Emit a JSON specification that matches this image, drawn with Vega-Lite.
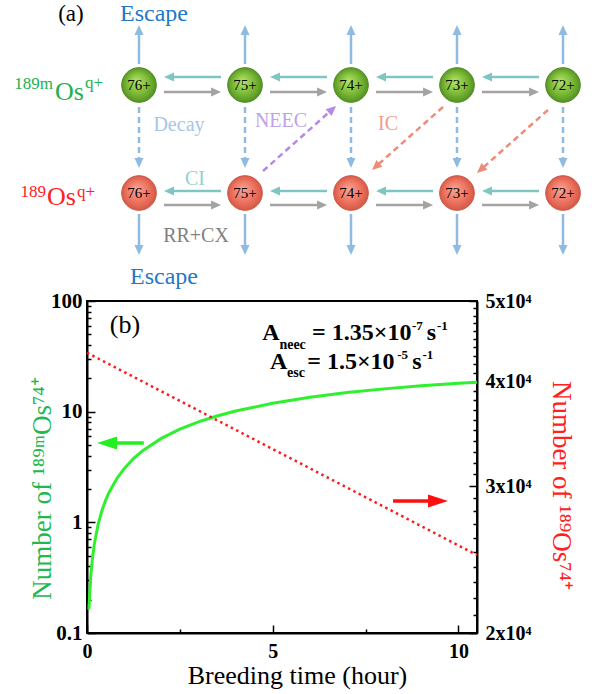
{
  "$schema": "https://vega.github.io/schema/vega-lite/v6.json",
  "width": 390,
  "height": 332,
  "autosize": {"type": "none"},
  "padding": {"left": 87, "top": 301, "right": 119, "bottom": 61},
  "background": "white",
  "config": {
    "font": "Liberation Serif, Times New Roman, serif",
    "view": {"stroke": "black", "strokeWidth": 2},
    "axis": {
      "grid": false,
      "domainColor": "black",
      "domainWidth": 2,
      "tickColor": "black",
      "tickWidth": 1.5,
      "labelFont": "Liberation Serif, Times New Roman, serif",
      "labelFontWeight": "bold",
      "labelColor": "black",
      "labelFlush": false,
      "labelOverlap": false,
      "titleFont": "Liberation Serif, Times New Roman, serif",
      "titleFontWeight": "normal"
    }
  },
  "datasets": {
    "nodes": [
      {"col": 0, "row": 0, "label": "76+"}, {"col": 1, "row": 0, "label": "75+"}, {"col": 2, "row": 0, "label": "74+"}, {"col": 3, "row": 0, "label": "73+"}, {"col": 4, "row": 0, "label": "72+"},
      {"col": 0, "row": 1, "label": "76+"}, {"col": 1, "row": 1, "label": "75+"}, {"col": 2, "row": 1, "label": "74+"}, {"col": 3, "row": 1, "label": "73+"}, {"col": 4, "row": 1, "label": "72+"}
    ],
    "solid": [
      {"c1": 0, "r1": -0.194, "c2": 0, "r2": -0.509, "kind": "esc"},
      {"c1": 1, "r1": -0.194, "c2": 1, "r2": -0.509, "kind": "esc"},
      {"c1": 2, "r1": -0.194, "c2": 2, "r2": -0.509, "kind": "esc"},
      {"c1": 3, "r1": -0.194, "c2": 3, "r2": -0.509, "kind": "esc"},
      {"c1": 4, "r1": -0.194, "c2": 4, "r2": -0.509, "kind": "esc"},
      {"c1": 0, "r1": 1.194, "c2": 0, "r2": 1.528, "kind": "esc"},
      {"c1": 1, "r1": 1.194, "c2": 1, "r2": 1.528, "kind": "esc"},
      {"c1": 2, "r1": 1.194, "c2": 2, "r2": 1.528, "kind": "esc"},
      {"c1": 3, "r1": 1.194, "c2": 3, "r2": 1.528, "kind": "esc"},
      {"c1": 4, "r1": 1.194, "c2": 4, "r2": 1.528, "kind": "esc"},
      {"c1": 0.283, "r1": -0.074, "c2": 0.774, "r2": -0.074, "kind": "ci"},
      {"c1": 1.283, "r1": -0.074, "c2": 1.774, "r2": -0.074, "kind": "ci"},
      {"c1": 2.283, "r1": -0.074, "c2": 2.774, "r2": -0.074, "kind": "ci"},
      {"c1": 3.283, "r1": -0.074, "c2": 3.774, "r2": -0.074, "kind": "ci"},
      {"c1": 0.236, "r1": 0.065, "c2": 0.727, "r2": 0.065, "kind": "rr"},
      {"c1": 1.236, "r1": 0.065, "c2": 1.727, "r2": 0.065, "kind": "rr"},
      {"c1": 2.236, "r1": 0.065, "c2": 2.727, "r2": 0.065, "kind": "rr"},
      {"c1": 3.236, "r1": 0.065, "c2": 3.727, "r2": 0.065, "kind": "rr"},
      {"c1": 0.283, "r1": 0.981, "c2": 0.774, "r2": 0.981, "kind": "ci"},
      {"c1": 1.283, "r1": 0.981, "c2": 1.774, "r2": 0.981, "kind": "ci"},
      {"c1": 2.283, "r1": 0.981, "c2": 2.774, "r2": 0.981, "kind": "ci"},
      {"c1": 3.283, "r1": 0.981, "c2": 3.774, "r2": 0.981, "kind": "ci"},
      {"c1": 0.236, "r1": 1.111, "c2": 0.727, "r2": 1.111, "kind": "rr"},
      {"c1": 1.236, "r1": 1.111, "c2": 1.727, "r2": 1.111, "kind": "rr"},
      {"c1": 2.236, "r1": 1.111, "c2": 2.727, "r2": 1.111, "kind": "rr"},
      {"c1": 3.236, "r1": 1.111, "c2": 3.727, "r2": 1.111, "kind": "rr"}
    ],
    "dashed": [
      {"c1": 0, "r1": 0.204, "c2": 0, "r2": 0.722, "kind": "decay"},
      {"c1": 1, "r1": 0.204, "c2": 1, "r2": 0.722, "kind": "decay"},
      {"c1": 2, "r1": 0.204, "c2": 2, "r2": 0.722, "kind": "decay"},
      {"c1": 3, "r1": 0.204, "c2": 3, "r2": 0.722, "kind": "decay"},
      {"c1": 4, "r1": 0.204, "c2": 4, "r2": 0.722, "kind": "decay"},
      {"c1": 1.17, "r1": 0.796, "c2": 1.824, "r2": 0.225, "kind": "neec"},
      {"c1": 2.868, "r1": 0.204, "c2": 2.233, "r2": 0.756, "kind": "ic"},
      {"c1": 3.858, "r1": 0.231, "c2": 3.224, "r2": 0.784, "kind": "ic"}
    ],
    "heads": [
      {"c": 0, "r": -0.509, "angle": 0, "kind": "esc"},
      {"c": 1, "r": -0.509, "angle": 0, "kind": "esc"},
      {"c": 2, "r": -0.509, "angle": 0, "kind": "esc"},
      {"c": 3, "r": -0.509, "angle": 0, "kind": "esc"},
      {"c": 4, "r": -0.509, "angle": 0, "kind": "esc"},
      {"c": 0, "r": 1.528, "angle": 180, "kind": "esc"},
      {"c": 1, "r": 1.528, "angle": 180, "kind": "esc"},
      {"c": 2, "r": 1.528, "angle": 180, "kind": "esc"},
      {"c": 3, "r": 1.528, "angle": 180, "kind": "esc"},
      {"c": 4, "r": 1.528, "angle": 180, "kind": "esc"},
      {"c": 0.283, "r": -0.074, "angle": 270, "kind": "ci"},
      {"c": 1.283, "r": -0.074, "angle": 270, "kind": "ci"},
      {"c": 2.283, "r": -0.074, "angle": 270, "kind": "ci"},
      {"c": 3.283, "r": -0.074, "angle": 270, "kind": "ci"},
      {"c": 0.727, "r": 0.065, "angle": 90, "kind": "rr"},
      {"c": 1.727, "r": 0.065, "angle": 90, "kind": "rr"},
      {"c": 2.727, "r": 0.065, "angle": 90, "kind": "rr"},
      {"c": 3.727, "r": 0.065, "angle": 90, "kind": "rr"},
      {"c": 0.283, "r": 0.981, "angle": 270, "kind": "ci"},
      {"c": 1.283, "r": 0.981, "angle": 270, "kind": "ci"},
      {"c": 2.283, "r": 0.981, "angle": 270, "kind": "ci"},
      {"c": 3.283, "r": 0.981, "angle": 270, "kind": "ci"},
      {"c": 0.727, "r": 1.111, "angle": 90, "kind": "rr"},
      {"c": 1.727, "r": 1.111, "angle": 90, "kind": "rr"},
      {"c": 2.727, "r": 1.111, "angle": 90, "kind": "rr"},
      {"c": 3.727, "r": 1.111, "angle": 90, "kind": "rr"},
      {"c": 0, "r": 0.722, "angle": 180, "kind": "decay"},
      {"c": 1, "r": 0.722, "angle": 180, "kind": "decay"},
      {"c": 2, "r": 0.722, "angle": 180, "kind": "decay"},
      {"c": 3, "r": 0.722, "angle": 180, "kind": "decay"},
      {"c": 4, "r": 0.722, "angle": 180, "kind": "decay"},
      {"c": 1.824, "r": 0.225, "angle": 48.3, "kind": "neec"},
      {"c": 2.233, "r": 0.756, "angle": 228.4, "kind": "ic"},
      {"c": 3.224, "r": 0.784, "angle": 228.4, "kind": "ic"}
    ],
    "processLabels": [
      {"text": "Decay", "col": 0.377, "row": 0.37, "kind": "t_decay"},
      {"text": "NEEC", "col": 1.34, "row": 0.333, "kind": "t_neec"},
      {"text": "IC", "col": 2.349, "row": 0.361, "kind": "t_ic"},
      {"text": "CI", "col": 0.528, "row": 0.87, "kind": "t_ci"},
      {"text": "RR+CX", "col": 0.538, "row": 1.398, "kind": "t_rr"}
    ],
    "escapeLabels": [
      {"text": "Escape", "col": 0.142, "row": -0.66},
      {"text": "Escape", "col": 0.236, "row": 1.778}
    ],
    "panelA": [{"text": "(a)", "col": -0.642, "row": -0.66}],
    "speciesSupRight": [
      {"text": "189m", "col": -0.811, "row": -0.009, "kind": "meta"},
      {"text": "189", "col": -0.877, "row": 0.991, "kind": "ground"}
    ],
    "speciesBig": [
      {"text": "Os", "col": -0.792, "row": 0.065, "kind": "meta"},
      {"text": "Os", "col": -0.868, "row": 1.037, "kind": "ground"}
    ],
    "speciesSupLeft": [
      {"text": "q+", "col": -0.509, "row": -0.019, "kind": "meta"},
      {"text": "q+", "col": -0.585, "row": 0.991, "kind": "ground"}
    ],
    "isomer": [
      {"t": 0.05, "v": 0.163}, {"t": 0.1, "v": 0.325}, {"t": 0.15, "v": 0.485}, {"t": 0.2, "v": 0.645},
      {"t": 0.3, "v": 0.961}, {"t": 0.4, "v": 1.272}, {"t": 0.5, "v": 1.58}, {"t": 0.6, "v": 1.884},
      {"t": 0.8, "v": 2.479}, {"t": 1.0, "v": 3.058}, {"t": 1.25, "v": 3.761}, {"t": 1.5, "v": 4.442},
      {"t": 2.0, "v": 5.735}, {"t": 2.5, "v": 6.946}, {"t": 3.0, "v": 8.078}, {"t": 3.5, "v": 9.136},
      {"t": 4.0, "v": 10.13}, {"t": 5.0, "v": 11.92}, {"t": 6.0, "v": 13.49}, {"t": 7.0, "v": 14.87},
      {"t": 8.0, "v": 16.07}, {"t": 9.0, "v": 17.12}, {"t": 10.0, "v": 18.04}, {"t": 10.5, "v": 18.46}
    ],
    "ground": [
      {"t": 0, "n": 43350}, {"t": 1, "n": 41105}, {"t": 2, "n": 38976}, {"t": 3, "n": 36957},
      {"t": 4, "n": 35044}, {"t": 5, "n": 33228}, {"t": 6, "n": 31507}, {"t": 7, "n": 29877},
      {"t": 8, "n": 28329}, {"t": 9, "n": 26860}, {"t": 10, "n": 25468}, {"t": 10.5, "n": 24801}
    ],
    "greenArrow": [{"t": 0.54, "t2": 1.53, "v": 5.21, "angle": 270}],
    "redArrow": [{"t": 8.24, "t2": 9.45, "v": 1.557, "angle": 90}],
    "panelB": [{"text": "(b)", "t": 1.02, "v": 60.6}],
    "formulaBig": [
      {"text": "A", "t": 4.72, "v": 51.3},
      {"text": "= 1.35×10", "t": 6.06, "v": 51.3},
      {"text": "s", "t": 9.15, "v": 51.3},
      {"text": "A", "t": 4.93, "v": 28.1},
      {"text": "= 1.5×10", "t": 5.93, "v": 28.1},
      {"text": "s", "t": 8.76, "v": 28.1}
    ],
    "formulaSub": [
      {"text": "neec", "t": 5.18, "v": 40.0},
      {"text": "esc", "t": 5.385, "v": 22.3}
    ],
    "formulaSup": [
      {"text": "-7", "t": 8.75, "v": 59.4},
      {"text": "-1", "t": 9.42, "v": 59.4},
      {"text": "-5", "t": 8.35, "v": 32.5},
      {"text": "-1", "t": 9.03, "v": 32.5}
    ]
  },
  "layer": [
    {
      "layer": [
        {
          "data": {"name": "solid"},
          "mark": {"type": "rule", "strokeWidth": 2.5},
          "encoding": {
            "x": {"field": "c1", "type": "quantitative", "scale": {"domain": [0, 4], "range": [52, 476], "nice": false, "zero": false}, "axis": null},
            "x2": {"field": "c2"},
            "y": {"field": "r1", "type": "quantitative", "scale": {"domain": [0, 1], "range": [-216, -108], "nice": false, "zero": false}, "axis": null},
            "y2": {"field": "r2"},
            "color": {
              "field": "kind", "type": "nominal", "legend": null,
              "scale": {
                "domain": ["esc", "ci", "rr", "decay", "neec", "ic", "meta", "ground", "t_decay", "t_neec", "t_ic", "t_ci", "t_rr"],
                "range": ["#8fbbe3", "#7fc6c3", "#a3a3a3", "#8fbbe3", "#b48ae6", "#ef8b7a", "#1eb04c", "#ff2020", "#a6c6ea", "#c0a2ea", "#f29c8c", "#92d2cc", "#7f7f7f"]
              }
            }
          }
        },
        {
          "data": {"name": "dashed"},
          "mark": {"type": "rule", "strokeWidth": 2.5, "strokeDash": [6, 4]},
          "encoding": {
            "x": {"field": "c1", "type": "quantitative"},
            "x2": {"field": "c2"},
            "y": {"field": "r1", "type": "quantitative"},
            "y2": {"field": "r2"},
            "color": {"field": "kind", "type": "nominal", "legend": null}
          }
        },
        {
          "data": {"name": "heads"},
          "mark": {"type": "point", "shape": "M0,-1L0.9,1L-0.9,1Z", "filled": true, "size": 100, "opacity": 1},
          "encoding": {
            "x": {"field": "c", "type": "quantitative"},
            "y": {"field": "r", "type": "quantitative"},
            "angle": {"field": "angle", "type": "quantitative", "scale": null},
            "color": {"field": "kind", "type": "nominal", "legend": null}
          }
        },
        {
          "data": {"name": "nodes"},
          "transform": [{"filter": "datum.row == 0"}],
          "mark": {
            "type": "point", "shape": "circle", "size": 1200, "filled": true, "opacity": 1,
            "fill": {"gradient": "radial", "x1": 0.42, "y1": 0.38, "r1": 0, "x2": 0.5, "y2": 0.5, "r2": 0.55,
              "stops": [{"offset": 0, "color": "#b7e46c"}, {"offset": 0.55, "color": "#7dbb37"}, {"offset": 1, "color": "#4c8a1f"}]},
            "stroke": "#4f8a25", "strokeWidth": 1
          },
          "encoding": {
            "x": {"field": "col", "type": "quantitative"},
            "y": {"field": "row", "type": "quantitative"}
          }
        },
        {
          "data": {"name": "nodes"},
          "transform": [{"filter": "datum.row == 1"}],
          "mark": {
            "type": "point", "shape": "circle", "size": 1200, "filled": true, "opacity": 1,
            "fill": {"gradient": "radial", "x1": 0.42, "y1": 0.38, "r1": 0, "x2": 0.5, "y2": 0.5, "r2": 0.55,
              "stops": [{"offset": 0, "color": "#f9a594"}, {"offset": 0.55, "color": "#ef7663"}, {"offset": 1, "color": "#cf5240"}]},
            "stroke": "#cc5545", "strokeWidth": 1
          },
          "encoding": {
            "x": {"field": "col", "type": "quantitative"},
            "y": {"field": "row", "type": "quantitative"}
          }
        },
        {
          "data": {"name": "nodes"},
          "mark": {"type": "text", "fontSize": 15, "color": "black", "baseline": "middle"},
          "encoding": {
            "x": {"field": "col", "type": "quantitative"},
            "y": {"field": "row", "type": "quantitative"},
            "text": {"field": "label"}
          }
        },
        {
          "data": {"name": "processLabels"},
          "mark": {"type": "text", "fontSize": 20, "baseline": "middle"},
          "encoding": {
            "x": {"field": "col", "type": "quantitative"},
            "y": {"field": "row", "type": "quantitative"},
            "text": {"field": "text"},
            "color": {"field": "kind", "type": "nominal", "legend": null}
          }
        },
        {
          "data": {"name": "escapeLabels"},
          "mark": {"type": "text", "fontSize": 24, "baseline": "middle", "color": "#1f78c8"},
          "encoding": {
            "x": {"field": "col", "type": "quantitative"},
            "y": {"field": "row", "type": "quantitative"},
            "text": {"field": "text"}
          }
        },
        {
          "data": {"name": "panelA"},
          "mark": {"type": "text", "fontSize": 23, "baseline": "middle", "color": "black"},
          "encoding": {
            "x": {"field": "col", "type": "quantitative"},
            "y": {"field": "row", "type": "quantitative"},
            "text": {"field": "text"}
          }
        },
        {
          "data": {"name": "speciesSupRight"},
          "mark": {"type": "text", "fontSize": 17, "baseline": "middle", "align": "right"},
          "encoding": {
            "x": {"field": "col", "type": "quantitative"},
            "y": {"field": "row", "type": "quantitative"},
            "text": {"field": "text"},
            "color": {"field": "kind", "type": "nominal", "legend": null}
          }
        },
        {
          "data": {"name": "speciesBig"},
          "mark": {"type": "text", "fontSize": 26, "baseline": "middle", "align": "left"},
          "encoding": {
            "x": {"field": "col", "type": "quantitative"},
            "y": {"field": "row", "type": "quantitative"},
            "text": {"field": "text"},
            "color": {"field": "kind", "type": "nominal", "legend": null}
          }
        },
        {
          "data": {"name": "speciesSupLeft"},
          "mark": {"type": "text", "fontSize": 17, "baseline": "middle", "align": "left"},
          "encoding": {
            "x": {"field": "col", "type": "quantitative"},
            "y": {"field": "row", "type": "quantitative"},
            "text": {"field": "text"},
            "color": {"field": "kind", "type": "nominal", "legend": null}
          }
        }
      ]
    },
    {
      "layer": [
        {
          "layer": [
            {
              "data": {"name": "isomer"},
              "mark": {"type": "line", "color": "#2ef02e", "strokeWidth": 3},
              "encoding": {
                "x": {
                  "field": "t", "type": "quantitative",
                  "scale": {"domain": [0, 10.5], "nice": false, "zero": false},
                  "axis": {
                    "orient": "bottom",
                    "values": [0, 2.5, 5, 7.5, 10],
                    "labelExpr": "datum.value % 5 == 0 ? datum.label : ''",
                    "tickSize": {"condition": {"test": "datum.value % 5 == 0", "value": -8}, "value": -4},
                    "labelPadding": 16,
                    "labelFontSize": 20,
                    "title": "Breeding time (hour)",
                    "titleFontSize": 26,
                    "titleColor": "black",
                    "titleX": 210,
                    "titleY": 42,
                    "titleBaseline": "middle",
                    "titleAlign": "center"
                  }
                },
                "y": {
                  "field": "v", "type": "quantitative",
                  "scale": {"type": "log", "domain": [0.1, 100], "nice": false},
                  "axis": {
                    "orient": "left",
                    "values": [0.1, 0.2, 0.3, 0.4, 0.5, 0.6, 0.7, 0.8, 0.9, 1, 2, 3, 4, 5, 6, 7, 8, 9, 10, 20, 30, 40, 50, 60, 70, 80, 90, 100],
                    "format": "~g",
                    "labelExpr": "indexof([0.1, 1, 10, 100], datum.value) >= 0 ? datum.label : ''",
                    "tickSize": {"condition": {"test": "indexof([0.1, 1, 10, 100], datum.value) >= 0", "value": -8}, "value": -4},
                    "labelPadding": 13,
                    "labelFontSize": 21,
                    "title": "Number of ¹⁸⁹ᵐOs⁷⁴⁺",
                    "titleColor": "#22b850",
                    "titleFontSize": 27,
                    "titleAngle": 270,
                    "titleX": -45,
                    "titleY": 187,
                    "titleAlign": "center",
                    "titleBaseline": "middle"
                  }
                }
              }
            },
            {
              "data": {"name": "greenArrow"},
              "mark": {"type": "rule", "color": "#22ee22", "strokeWidth": 3.5},
              "encoding": {
                "x": {"field": "t", "type": "quantitative"},
                "x2": {"field": "t2"},
                "y": {"field": "v", "type": "quantitative"}
              }
            },
            {
              "data": {"name": "greenArrow"},
              "mark": {"type": "point", "shape": "M0,-1L0.65,1L-0.65,1Z", "filled": true, "size": 400, "opacity": 1, "color": "#22ee22"},
              "encoding": {
                "x": {"field": "t", "type": "quantitative"},
                "y": {"field": "v", "type": "quantitative"},
                "angle": {"field": "angle", "type": "quantitative", "scale": null}
              }
            },
            {
              "data": {"name": "redArrow"},
              "mark": {"type": "rule", "color": "#ff1010", "strokeWidth": 3.5},
              "encoding": {
                "x": {"field": "t", "type": "quantitative"},
                "x2": {"field": "t2"},
                "y": {"field": "v", "type": "quantitative"}
              }
            },
            {
              "data": {"name": "redArrow"},
              "mark": {"type": "point", "shape": "M0,-1L0.65,1L-0.65,1Z", "filled": true, "size": 400, "opacity": 1, "color": "#ff1010"},
              "encoding": {
                "x": {"field": "t2", "type": "quantitative"},
                "y": {"field": "v", "type": "quantitative"},
                "angle": {"field": "angle", "type": "quantitative", "scale": null}
              }
            },
            {
              "data": {"name": "panelB"},
              "mark": {"type": "text", "fontSize": 26, "baseline": "middle", "color": "black"},
              "encoding": {
                "x": {"field": "t", "type": "quantitative"},
                "y": {"field": "v", "type": "quantitative"},
                "text": {"field": "text"}
              }
            },
            {
              "data": {"name": "formulaBig"},
              "mark": {"type": "text", "fontSize": 24, "fontWeight": "bold", "baseline": "middle", "align": "left", "color": "black"},
              "encoding": {
                "x": {"field": "t", "type": "quantitative"},
                "y": {"field": "v", "type": "quantitative"},
                "text": {"field": "text"}
              }
            },
            {
              "data": {"name": "formulaSub"},
              "mark": {"type": "text", "fontSize": 14, "fontWeight": "bold", "baseline": "middle", "align": "left", "color": "black"},
              "encoding": {
                "x": {"field": "t", "type": "quantitative"},
                "y": {"field": "v", "type": "quantitative"},
                "text": {"field": "text"}
              }
            },
            {
              "data": {"name": "formulaSup"},
              "mark": {"type": "text", "fontSize": 13, "fontWeight": "bold", "baseline": "middle", "align": "left", "color": "black"},
              "encoding": {
                "x": {"field": "t", "type": "quantitative"},
                "y": {"field": "v", "type": "quantitative"},
                "text": {"field": "text"}
              }
            }
          ]
        },
        {
          "data": {"name": "ground"},
          "mark": {"type": "line", "color": "#ff1a1a", "strokeWidth": 2.5, "strokeDash": [2.5, 3.5]},
          "encoding": {
            "x": {"field": "t", "type": "quantitative"},
            "y": {
              "field": "n", "type": "quantitative",
              "scale": {"type": "log", "domain": [20000, 50000], "nice": false, "zero": false},
              "axis": {
                "orient": "right",
                "values": [20000, 21000, 22000, 23000, 24000, 25000, 26000, 27000, 28000, 29000, 30000, 31000, 32000, 33000, 34000, 35000, 36000, 37000, 38000, 39000, 40000, 41000, 42000, 43000, 44000, 45000, 46000, 47000, 48000, 49000, 50000],
                "labelExpr": "datum.value % 10000 == 0 ? (datum.value / 10000) + 'x10⁴' : ''",
                "tickSize": {"condition": {"test": "datum.value % 10000 == 0", "value": -8}, "value": -4},
                "labelPadding": 16,
                "labelFontSize": 20,
                "title": "Number of ¹⁸⁹Os⁷⁴⁺",
                "titleColor": "#ff2020",
                "titleFontSize": 27,
                "titleAngle": 90,
                "titleX": 83,
                "titleY": 184,
                "titleAlign": "center",
                "titleBaseline": "middle"
              }
            }
          }
        }
      ],
      "resolve": {"scale": {"y": "independent"}}
    }
  ],
  "resolve": {"scale": {"x": "independent", "y": "independent"}}
}
